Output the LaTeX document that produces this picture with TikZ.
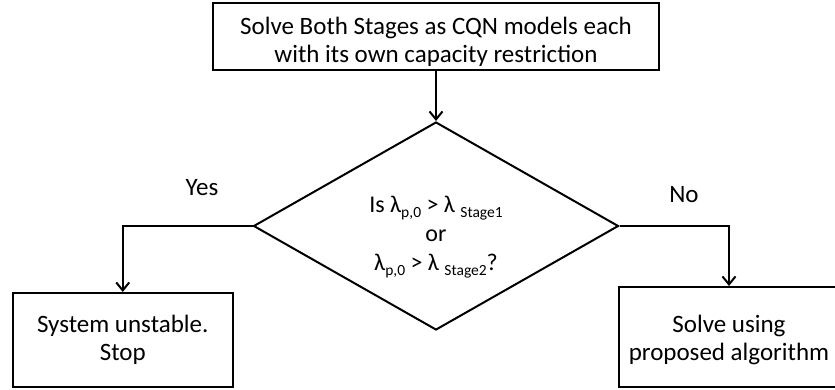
\documentclass[tikz,border=0pt]{standalone}
\usepackage{fontspec}
\setmainfont{Carlito}
\usetikzlibrary{shapes.geometric,arrows.meta}
\newcommand\lowsub[1]{\raisebox{-0.45ex}{\fontsize{15.5}{15.5}\selectfont #1}}
\tikzset{
  flow/.style={line width=2pt, -{Straight Barb[length=8pt,width=13pt,line width=2pt]}},
  box/.style={draw, line width=2pt, rectangle, inner sep=0pt, align=center,
              font=\fontsize{25}{28}\selectfont},
  decision/.style={draw, line width=2pt, diamond, inner sep=0pt,
                   minimum width=365pt, minimum height=208pt},
  txt/.style={align=center, inner sep=0pt, font=\fontsize{25}{30}\selectfont},
  condtxt/.style={align=center, inner sep=0pt, font=\fontsize{24}{29}\selectfont}
}
\begin{document}
\begin{tikzpicture}[x=1pt, y=-1pt]
  \useasboundingbox (0,0) rectangle (835,389);
  % start box (strut lowers the two lines a little inside the frame)
  \node[box, minimum width=446pt, minimum height=67pt] (solve) at (436,36.5)
    {\rule{0pt}{28pt}Solve Both Stages as CQN models each\\with its own capacity restriction};
  % stability test
  \node[decision] (test) at (436,226) {};
  \node[condtxt] (cond) at (436,237)
    {Is λ\lowsub{p,0} > λ \lowsub{Stage1}\\or\\λ\lowsub{p,0} > λ \lowsub{Stage2}?};
  % outcomes
  \node[box, minimum width=220.5pt, minimum height=94pt] (stop) at (122.75,340)
    {System unstable.\\Stop};
  \node[box, minimum width=220pt, minimum height=100pt] (algo) at (729,337)
    {\rule{0pt}{24pt}Solve using\\proposed algorithm};
  % branch labels
  \node[txt] (yes) at (202,187.5) {Yes};
  \node[txt] (no) at (684,195) {No};
  % connectors
  \draw[flow] (solve.south) -- (test.north);
  \draw[flow] (test.west) -| (stop.north);
  \draw[flow] (test.east) -| (algo.north);
\end{tikzpicture}
\end{document}
